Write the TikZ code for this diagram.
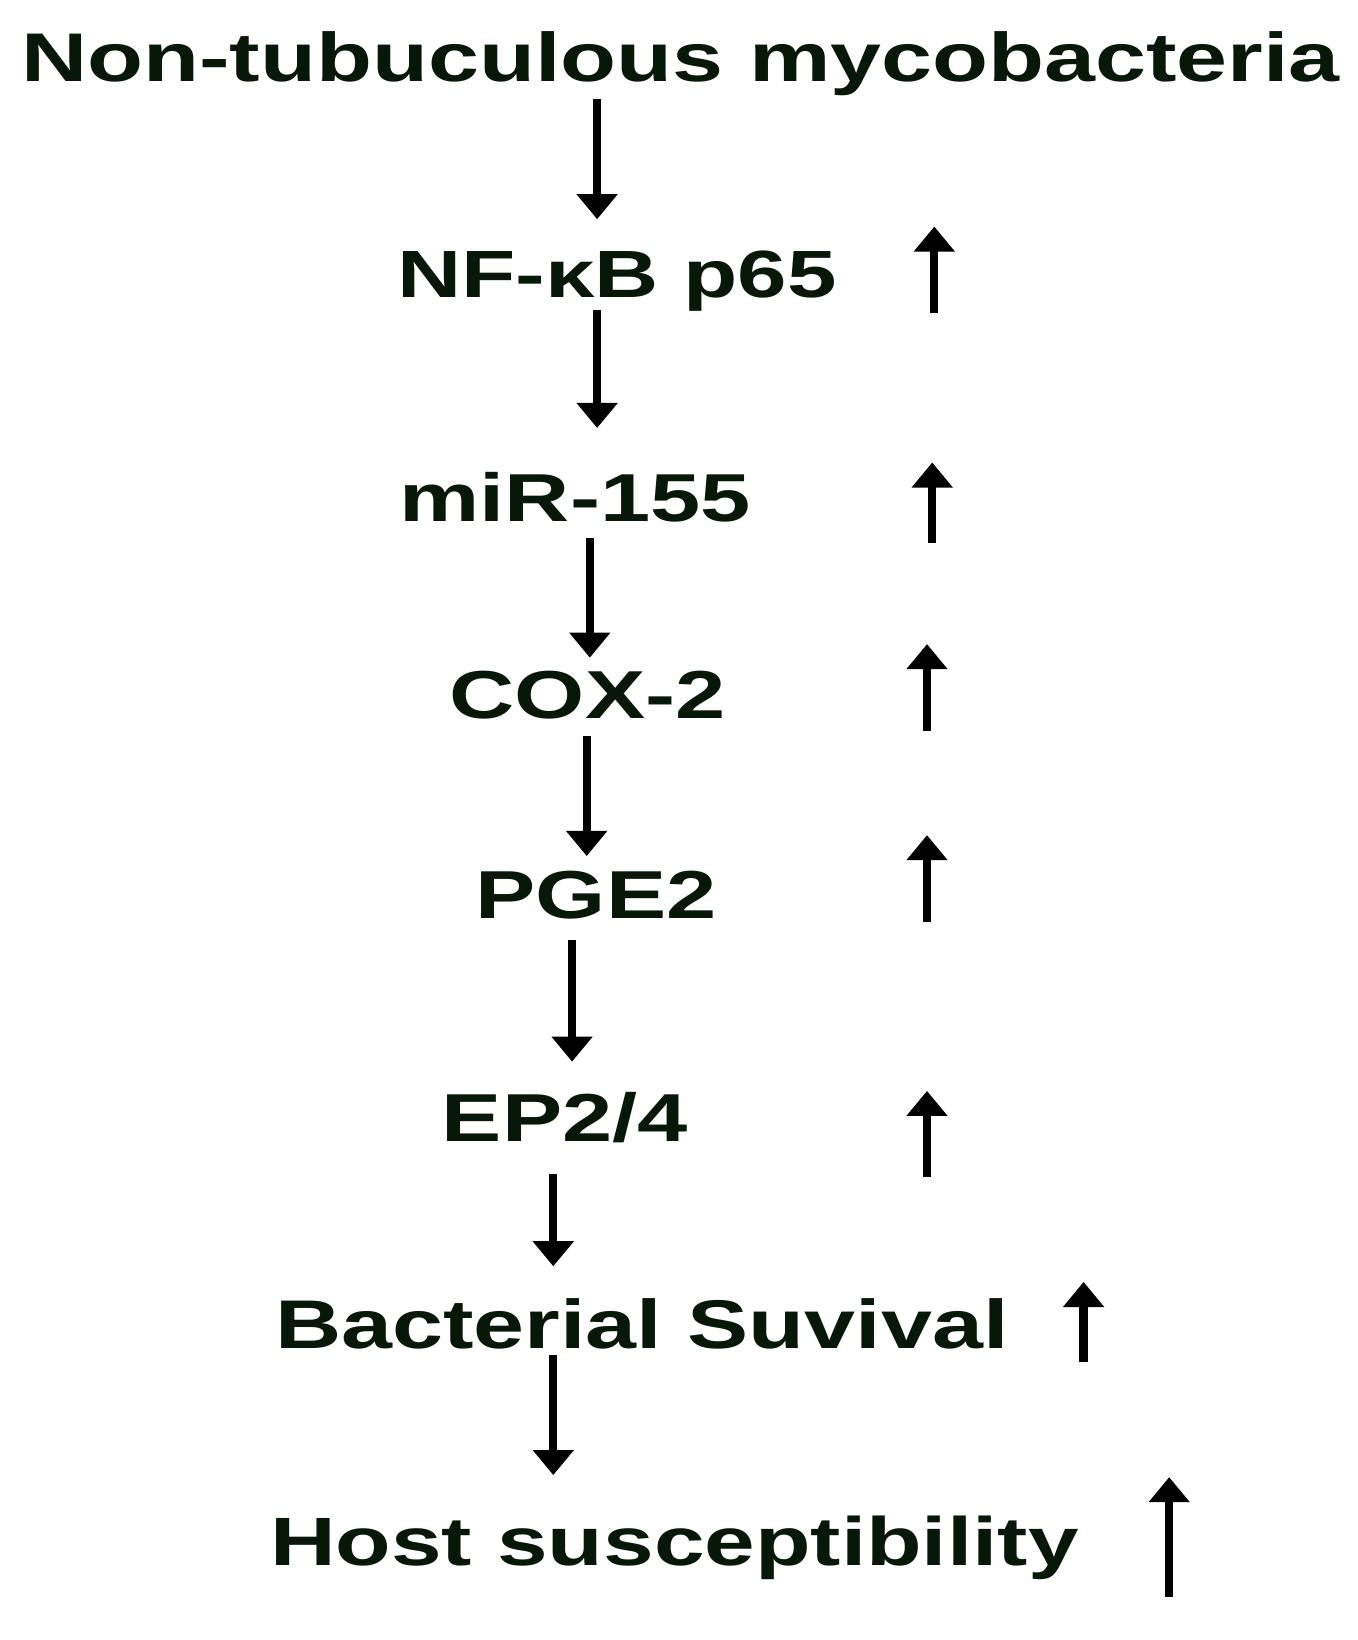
\documentclass[tikz,border=0pt]{standalone}
\usepackage{fontspec}
\newfontfamily\stagefont{Liberation Sans}[FakeStretch=1.33]
\usetikzlibrary{arrows.meta}
\definecolor{darkgreen}{RGB}{8,24,8}

\begin{document}
\begin{tikzpicture}[x=1pt,y=-1pt,
  stage/.style={font=\stagefont\bfseries\fontsize{65}{72}\selectfont,text=darkgreen,inner sep=0pt,anchor=base},
  flow/.style={line width=8pt,-{Triangle[width=38pt,length=24pt]}},
  rise/.style={line width=8pt,-{Triangle[width=38pt,length=24pt]}}]
\useasboundingbox (0,0) rectangle (1300,1571);

\node[stage,font=\stagefont\bfseries\fontsize{66}{72}\selectfont] (ntm) at (652,78) {Non-tubuculous mycobacteria};
\node[stage,font=\stagefont\bfseries\fontsize{64}{70}\selectfont] (nfkb) at (591,285) {NF-κB p65};
\node[stage] (mir) at (551,500) {miR-155};
\node[stage] (cox) at (563,688) {COX-2};
\node[stage] (pge) at (571,880) {PGE2};
\node[stage] (ep) at (541,1093) {EP2/4};
\node[stage,font=\stagefont\bfseries\fontsize{66}{72}\selectfont] (surv) at (615,1292) {Bacterial Suvival};
\node[stage,font=\stagefont\bfseries\fontsize{65.5}{72}\selectfont] (host) at (646,1500) {Host susceptibility};

\draw[flow,shorten <=17pt,shorten >=75pt] (ntm.base -| 572,0) -- (nfkb.base -| 572,0);
\draw[flow,shorten <=12pt,shorten >=90pt] (nfkb.base -| 572,0) -- (mir.base -| 572,0);
\draw[flow,shorten <=15pt,shorten >=58pt] (mir.base -| 565,0) -- (cox.base -| 565,0);
\draw[flow,shorten <=17pt,shorten >=60pt] (cox.base -| 562,0) -- (pge.base -| 562,0);
\draw[flow,shorten <=20pt,shorten >=76pt] (pge.base -| 548,0) -- (ep.base -| 548,0);
\draw[flow,shorten <=32pt,shorten >=79pt] (ep.base -| 530,0) -- (surv.base -| 530,0);
\draw[flow,shorten <=6pt,shorten >=87pt] (surv.base -| 530,0) -- (host.base -| 530,0);

\draw[rise] (895,300) -- (895,217);
\draw[rise] (893,520) -- (893,443);
\draw[rise] (888,700) -- (888,617);
\draw[rise] (888,883) -- (888,800);
\draw[rise] (888,1127) -- (888,1045);
\draw[rise] (1038,1305) -- (1038,1228);
\draw[rise] (1120,1530) -- (1120,1415);

\end{tikzpicture}
\end{document}
